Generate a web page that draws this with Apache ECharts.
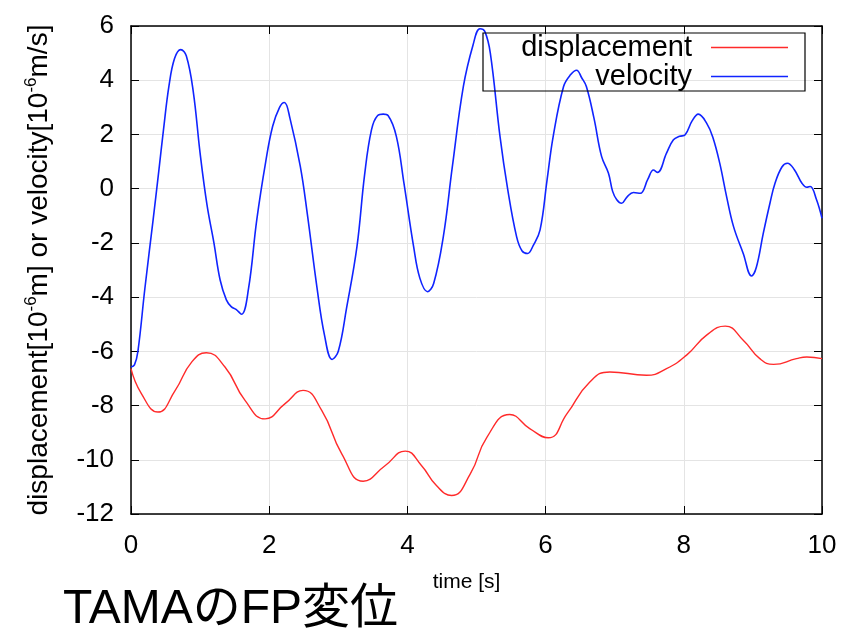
<!DOCTYPE html>
<html>
<head>
<meta charset="utf-8">
<script src="https://cdn.jsdelivr.net/npm/echarts@6/dist/echarts.min.js"></script>
<style>
  html, body { margin: 0; padding: 0; background: #fff; }
  #chart { width: 845px; height: 629px; }
</style>
</head>
<body>
<div id="chart"></div>
<script>
// values
const xTicks = [0, 2, 4, 6, 8, 10]
const yTicks = [-12, -10, -8, -6, -4, -2, 0, 2, 4, 6]

const dispT = [0, 0.15, 0.39, 0.64, 0.88, 1.09, 1.36, 1.65, 1.94, 2.23, 2.49, 2.76, 3.05, 3.36, 3.68, 3.97, 4.2, 4.42, 4.64,
  4.91, 5.15, 5.48, 5.77, 6.04, 6.31, 6.64, 6.93, 7.46, 7.75, 8.04, 8.33, 8.6, 8.86, 9.1, 9.3, 9.63, 9.78, 10]
const dispV = [-6.64, -7.56, -8.24, -7.44, -6.39, -6.05, -6.58, -7.81, -8.49, -7.93, -7.44, -8.18, -9.78, -10.79, -10.21, -9.68, -10.2, -10.95, -11.32,
  -10.52, -9.17, -8.33, -8.85, -9.19, -8.3, -7.13, -6.76, -6.88, -6.64, -6.14, -5.4, -5.07, -5.59, -6.27, -6.48, -6.27, -6.21, -6.27]

const velT = [0, 0.05, 0.1, 0.2, 0.32, 0.4, 0.47, 0.55, 0.63, 0.72, 0.8, 0.9, 1.0, 1.1, 1.2, 1.29, 1.38, 1.45, 1.52, 1.6,
  1.7, 1.82, 1.95, 2.05, 2.15, 2.22, 2.3, 2.45, 2.55, 2.69, 2.8, 2.91, 3.0, 3.12, 3.27, 3.38, 3.48, 3.57, 3.65, 3.72,
  3.84, 3.95, 4.09, 4.18, 4.29, 4.38, 4.52, 4.65, 4.81, 4.95, 5.05, 5.12, 5.2, 5.34, 5.45, 5.58, 5.66, 5.74, 5.82, 5.92,
  6.02, 6.11, 6.26, 6.36, 6.45, 6.52, 6.59, 6.7, 6.81, 6.91, 6.97, 7.03, 7.1, 7.18, 7.27, 7.37, 7.48, 7.56, 7.62, 7.75,
  7.85, 7.94, 8.02, 8.12, 8.21, 8.33, 8.42, 8.52, 8.62, 8.72, 8.86, 8.98, 9.05, 9.15, 9.25, 9.32, 9.42, 9.5, 9.6, 9.71,
  9.78, 9.83, 9.92, 10]
const velV = [-6.58, -6.5, -6.0, -3.7, -1.15, 0.6, 2.17, 3.8, 4.8, 5.13, 4.9, 3.6, 1.31, -0.6, -2.0, -3.37, -4.1, -4.35, -4.45, -4.63,
  -3.7, -1.15, 1.0, 2.3, 3.0, 3.18, 2.6, 0.82, -0.9, -3.62, -5.4, -6.3, -6.0, -4.4, -2.14, 0.5, 2.17, 2.7, 2.75, 2.7,
  1.93, 0.2, -2.14, -3.3, -3.8, -3.5, -1.77, 0.8, 3.77, 5.3, 5.9, 5.8, 5.0, 1.93, 0.0, -1.77, -2.3, -2.39, -2.1, -1.52,
  0.3, 1.93, 3.77, 4.2, 4.37, 4.1, 3.77, 2.6, 1.19, 0.57, -0.1, -0.41, -0.54, -0.3, -0.14, -0.17, 0.35, 0.69, 0.6, 1.31,
  1.8, 1.93, 1.99, 2.5, 2.75, 2.42, 1.9, 0.94, -0.3, -1.4, -2.39, -3.22, -2.9, -1.65, -0.5, 0.2, 0.8, 0.94, 0.7, 0.2,
  0.05, 0.08, -0.4, -1.09]

const font = 'Liberation Sans, Arial, sans-serif'
const chart = echarts.init(document.getElementById('chart'))

function pairs(xs, ys) {
  return xs.map((x, i) => [x, ys[i]])
}

// frame axes: bottom/left carry labels, top/right only the inward ticks
function xAxisOf(pos, main) {
  return {
    type: 'value',
    position: pos,
    min: xTicks[0],
    max: xTicks[xTicks.length - 1],
    interval: xTicks[1] - xTicks[0],
    name: main ? 'time [s]' : '',
    nameLocation: 'middle',
    nameGap: 58,
    nameTextStyle: { fontSize: 21, color: '#000', fontFamily: font, padding: [0, 20, 0, 0] },
    axisLine: { show: true, onZero: false, lineStyle: { color: '#000', width: 1.5 } },
    axisTick: { show: true, inside: true, length: 8, lineStyle: { color: '#000' } },
    axisLabel: { show: main, fontSize: 26, color: '#000', fontFamily: font, margin: 19 },
    splitLine: { show: main, lineStyle: { color: '#e4e4e4', width: 1 } }
  }
}

function yAxisOf(pos, main) {
  return {
    type: 'value',
    position: pos,
    min: yTicks[0],
    max: yTicks[yTicks.length - 1],
    interval: yTicks[1] - yTicks[0],
    name: main ? '{n|displacement[10}{s|-6}{n|m] or velocity[10}{s|-6}{n|m/s]}' : '',
    nameLocation: 'middle',
    nameRotate: 90,
    nameGap: 76,
    nameTextStyle: {
      color: '#000',
      fontFamily: font,
      rich: {
        n: { fontSize: 28, lineHeight: 32, fontFamily: font, color: '#000' },
        s: { fontSize: 17, lineHeight: 18, verticalAlign: 'top', fontFamily: font, color: '#000' }
      }
    },
    axisLine: { show: true, onZero: false, lineStyle: { color: '#000', width: 1.5 } },
    axisTick: { show: true, inside: true, length: 8, lineStyle: { color: '#000' } },
    axisLabel: { show: main, fontSize: 26, color: '#000', fontFamily: font, margin: 17 },
    splitLine: { show: main, lineStyle: { color: '#e4e4e4', width: 1 } }
  }
}

chart.setOption({
  backgroundColor: '#fff',
  animation: false,
  title: {
    text: 'TAMAのFP変位',
    left: 63,
    top: 586,
    padding: 0,
    textStyle: { fontSize: 48, fontWeight: 'normal', color: '#000', fontFamily: 'Liberation Sans, Noto Sans CJK JP' }
  },
  grid: { left: 131, right: 23, top: 26, bottom: 115 },
  legend: {
    left: 483,
    top: 33,
    orient: 'vertical',
    align: 'right',
    icon: 'rect',
    itemWidth: 77,
    itemHeight: 1.5,
    itemGap: 0,
    padding: [0, 17, 0, 10],
    borderColor: '#000',
    borderWidth: 1.2,
    formatter: '{r|{name}}',
    textStyle: {
      rich: {
        r: { width: 199, align: 'right', padding: [0, 14, 0, 0], fontSize: 29, lineHeight: 30, color: '#000', fontFamily: font }
      }
    },
    data: ['displacement', 'velocity']
  },
  xAxis: [xAxisOf('bottom', true), xAxisOf('top', false)],
  yAxis: [yAxisOf('left', true), yAxisOf('right', false)],
  series: [
    {
      name: 'displacement',
      type: 'line',
      smooth: 0.5,
      symbol: 'none',
      lineStyle: { color: '#ff2a2a', width: 1.4 },
      itemStyle: { color: '#ff2a2a' },
      data: pairs(dispT, dispV)
    },
    {
      name: 'velocity',
      type: 'line',
      smooth: 0.4,
      symbol: 'none',
      lineStyle: { color: '#1024ff', width: 1.6 },
      itemStyle: { color: '#1024ff' },
      data: pairs(velT, velV)
    }
  ]
})
</script>
</body>
</html>
